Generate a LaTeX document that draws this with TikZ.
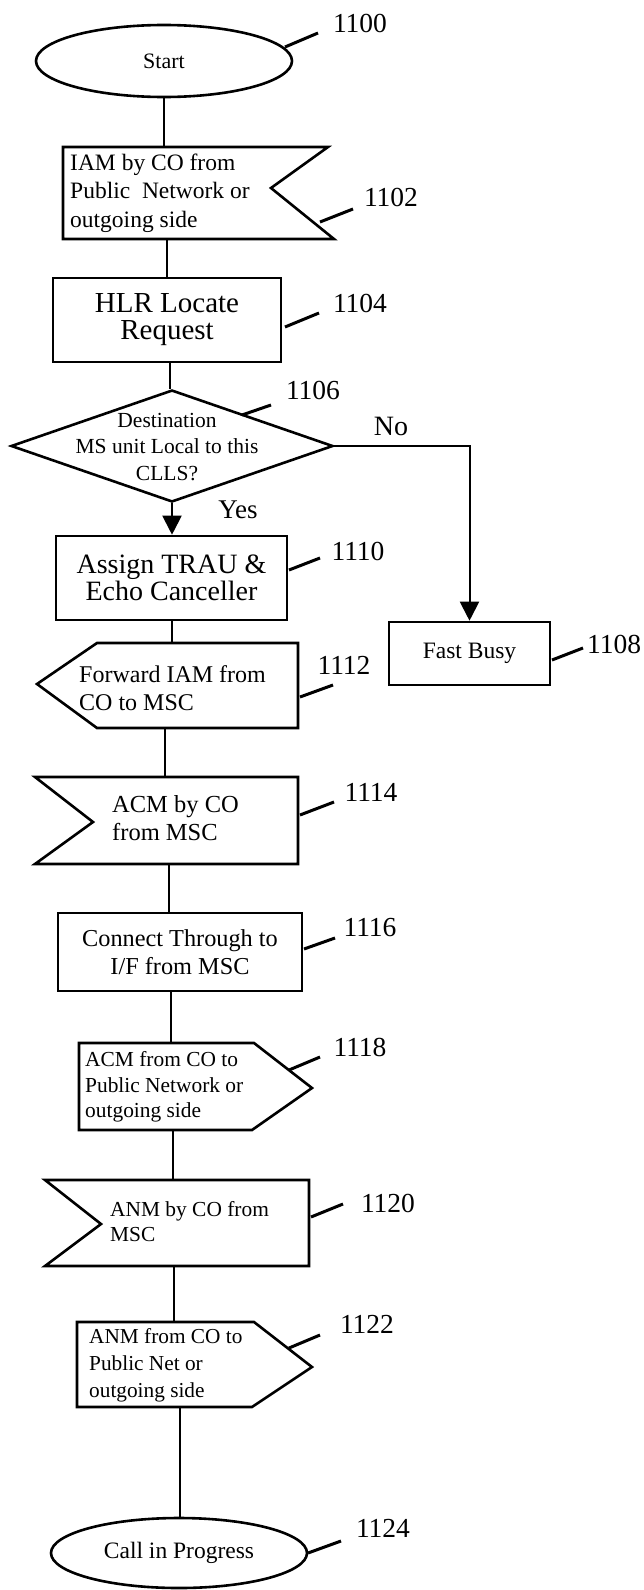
\documentclass[tikz,border=0pt]{standalone}
\usepackage{fontspec}
\setmainfont{Liberation Serif}
\usetikzlibrary{shapes.geometric,arrows.meta}

\begin{document}
\begin{tikzpicture}[x=1pt,y=-1pt,
  box/.style={draw,line width=2.6pt,inner sep=0pt,align=center},
  term/.style={box,ellipse},
  body/.style={inner sep=0pt},
  outline/.style={line width=2.6pt},
  txt/.style={inner sep=0pt,align=left,anchor=west},
  line/.style={line width=2pt},
  arr/.style={line width=2pt,-{Triangle[length=19pt,width=19pt]}},
  lead/.style={line width=3pt},
  num/.style={font=\fontsize{27.5}{30}\selectfont,inner sep=0pt}]
\useasboundingbox (0,0) rectangle (643,1590);

\node[term,minimum width=256pt,minimum height=72pt,font=\fontsize{22}{26}\selectfont] (start) at (164,61) {Start};

\node[body,minimum width=271pt,minimum height=92pt] (iam) at (198.5,193) {};
\draw[outline] (63,147) -- (328,147) -- (271,188) -- (334,239) -- (63,239) -- cycle;
\node[txt,font=\fontsize{23.5}{28.5}\selectfont] (iamtxt) at (70,193) {IAM by CO from\\Public\ \ Network or\\outgoing side};

\node[box,minimum width=228pt,minimum height=84pt,font=\fontsize{29}{27}\selectfont] (hlr) at (167,320) {HLR Locate\\Request};

\node[draw,diamond,line width=2.6pt,minimum width=322pt,minimum height=112pt,inner sep=0pt] (dec) at (172,446) {};
\node[font=\fontsize{21.5}{26.5}\selectfont,align=center,inner sep=0pt] (dectxt) at (167,447) {Destination\\MS unit Local to this\\CLLS?};
\node[font=\fontsize{28}{30}\selectfont,inner sep=0pt] (no) at (391,426) {No};
\node[font=\fontsize{27}{30}\selectfont,inner sep=0pt] (yes) at (238,510) {Yes};

\node[box,minimum width=231pt,minimum height=84pt,font=\fontsize{28}{27}\selectfont] (assign) at (171.5,578) {Assign TRAU \&\\Echo Canceller};
\node[box,minimum width=161pt,minimum height=63pt,font=\fontsize{23.5}{28}\selectfont] (busy) at (469.5,653.5) {Fast Busy};

\node[body,minimum width=261pt,minimum height=85pt] (fwd) at (167.5,685.5) {};
\draw[outline] (97,643) -- (298,643) -- (298,728) -- (97,728) -- (37,684) -- cycle;
\node[txt,font=\fontsize{24}{28}\selectfont] (fwdtxt) at (79,688) {Forward IAM from\\CO to MSC};

\node[body,minimum width=263pt,minimum height=87pt] (acmby) at (166.5,820.5) {};
\draw[outline] (35,777) -- (298,777) -- (298,864) -- (35,864) -- (93,822) -- cycle;
\node[txt,font=\fontsize{24.5}{28}\selectfont] (acmbytxt) at (112,818) {ACM by CO\\from MSC};

\node[box,minimum width=244pt,minimum height=78pt,font=\fontsize{24.3}{28}\selectfont] (conn) at (180,952) {Connect Through to\\I/F from MSC};

\node[body,minimum width=233pt,minimum height=87pt] (acmfrom) at (195.5,1086.5) {};
\draw[outline] (79,1043) -- (254,1043) -- (312,1088) -- (252,1130) -- (79,1130) -- cycle;
\node[txt,font=\fontsize{21.4}{25.5}\selectfont] (acmfromtxt) at (85,1087) {ACM from CO to\\Public Network or\\outgoing side};

\node[body,minimum width=264pt,minimum height=86pt] (anmby) at (177,1223) {};
\draw[outline] (45,1180) -- (309,1180) -- (309,1266) -- (45,1266) -- (101,1224) -- cycle;
\node[txt,font=\fontsize{21.4}{25}\selectfont] (anmbytxt) at (110,1222) {ANM by CO from\\MSC};

\node[body,minimum width=235pt,minimum height=85pt] (anmfrom) at (194.5,1364.5) {};
\draw[outline] (77,1322) -- (254,1322) -- (312,1367) -- (252,1407) -- (77,1407) -- cycle;
\node[txt,font=\fontsize{21.3}{27}\selectfont] (anmfromtxt) at (89,1365) {ANM from CO to\\Public Net or\\outgoing side};

\node[term,minimum width=256pt,minimum height=70pt,font=\fontsize{23.5}{28}\selectfont] (call) at (179,1553) {Call in Progress};

% flow lines
\draw[line] (start.south) -- (start.south |- iam.north);
\draw[line] (hlr.north |- iam.south) -- (hlr.north);
\draw[line] (170,0 |- hlr.south) -- (170,0 |- dec.north);
\draw[arr] (dec.south) -- (dec.south |- assign.north);
\draw[arr] (dec.east) -| (busy.north);
\draw[line] (172,0 |- assign.south) -- (172,0 |- fwd.north);
\draw[line] (165,0 |- fwd.south) -- (165,0 |- acmby.north);
\draw[line] (169,0 |- acmby.south) -- (169,0 |- conn.north);
\draw[line] (171,0 |- conn.south) -- (171,0 |- acmfrom.north);
\draw[line] (173,0 |- acmfrom.south) -- (173,0 |- anmby.north);
\draw[line] (174,0 |- anmby.south) -- (174,0 |- anmfrom.north);
\draw[line] (180,0 |- anmfrom.south) -- (180,0 |- call.north);

% reference numerals
\node[num] (n1100) at (360,23) {1100};
\node[num] (n1102) at (391,197) {1102};
\node[num] (n1104) at (360,303) {1104};
\node[num] (n1106) at (313,390) {1106};
\node[num] (n1108) at (614,644) {1108};
\node[num] (n1110) at (358,551) {1110};
\node[num] (n1112) at (344,665) {1112};
\node[num] (n1114) at (371,792) {1114};
\node[num] (n1116) at (370,928) {1116};
\node[num] (n1118) at (360,1047) {1118};
\node[num] (n1120) at (388,1203) {1120};
\node[num] (n1122) at (367,1324) {1122};
\node[num] (n1124) at (383,1528) {1124};
\draw[lead] (285,47) -- (318,33);
\draw[lead] (320,222) -- (353,209);
\draw[lead] (285,327) -- (319,313);
\draw[lead] (242,415) -- (271,405);
\draw[lead] (552,660) -- (583,648);
\draw[lead] (289,570) -- (320,558);
\draw[lead] (300,697) -- (333,685);
\draw[lead] (300,815) -- (334,802);
\draw[lead] (304,949) -- (335,938);
\draw[lead] (289,1070) -- (320,1057);
\draw[lead] (311,1217) -- (343,1204);
\draw[lead] (289,1348) -- (320,1335);
\draw[lead] (308,1553) -- (341,1541);
\end{tikzpicture}
\end{document}
